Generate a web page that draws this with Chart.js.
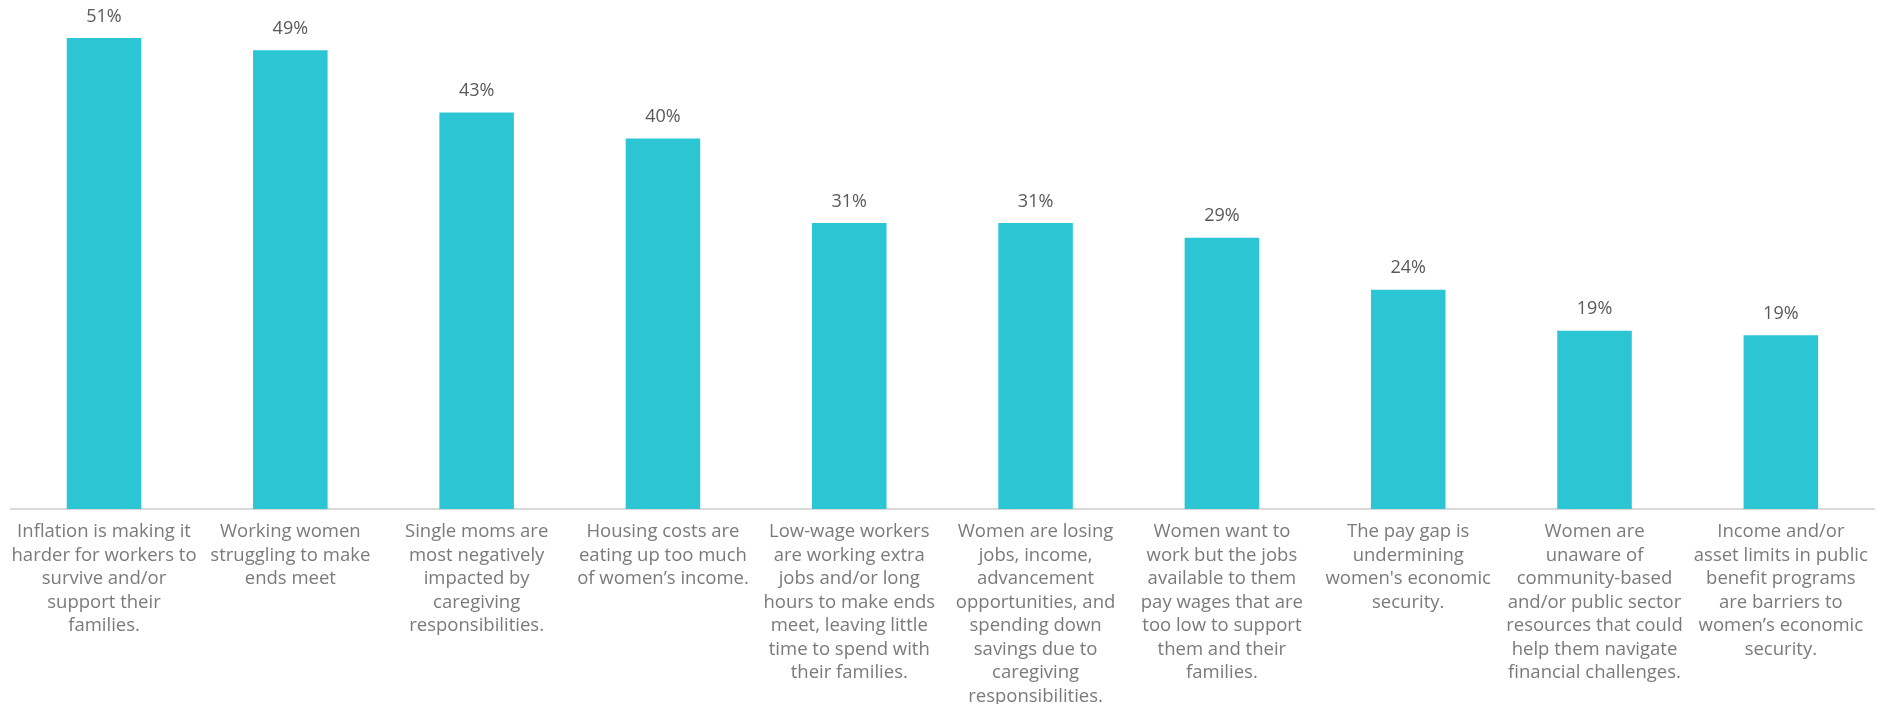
<!DOCTYPE html>
<html>
<head>
<meta charset="utf-8">
<script src="https://cdn.jsdelivr.net/npm/chart.js@4"></script>
<style>
  html, body { margin: 0; padding: 0; background: #ffffff; }
  #wrap { width: 1884px; height: 704px; position: relative; }
</style>
</head>
<body>
<div id="wrap"><canvas id="c"></canvas></div>
<script>
const categories = [
  ["Inflation is making it", "harder for workers to", "survive and/or", "support their", "families."],
  ["Working women", "struggling to make", "ends meet"],
  ["Single moms are", "most negatively", "impacted by", "caregiving", "responsibilities."],
  ["Housing costs are", "eating up too much", "of women\u2019s income."],
  ["Low-wage workers", "are working extra", "jobs and/or long", "hours to make ends", "meet, leaving little", "time to spend with", "their families."],
  ["Women are losing", "jobs, income,", "advancement", "opportunities, and", "spending down", "savings due to", "caregiving", "responsibilities."],
  ["Women want to", "work but the jobs", "available to them", "pay wages that are", "too low to support", "them and their", "families."],
  ["The pay gap is", "undermining", "women's economic", "security."],
  ["Women are", "unaware of", "community-based", "and/or public sector", "resources that could", "help them navigate", "financial challenges."],
  ["Income and/or", "asset limits in public", "benefit programs", "are barriers to", "women\u2019s economic", "security."]
];
const values = [50.7, 49.4, 42.7, 39.9, 30.8, 30.8, 29.2, 23.6, 19.2, 18.7];

const FONT = "'Open Sans', 'Lato', sans-serif";

const valueLabels = {
  id: 'valueLabels',
  afterDatasetsDraw(chart) {
    const ctx = chart.ctx;
    const meta = chart.getDatasetMeta(0);
    ctx.save();
    ctx.fillStyle = '#595959';
    ctx.font = '18px ' + FONT;
    ctx.textAlign = 'center';
    ctx.textBaseline = 'middle';
    meta.data.forEach((el, i) => {
      const v = chart.data.datasets[0].data[i];
      ctx.fillText(Math.round(v) + '%', el.x, el.y - 21.5);
    });
    ctx.restore();
  }
};

new Chart(document.getElementById('c'), {
  type: 'bar',
  data: {
    labels: categories,
    datasets: [{
      data: values,
      backgroundColor: '#2CC5D3',
      borderWidth: 0,
      barPercentage: 0.5,
      categoryPercentage: 0.8
    }]
  },
  options: {
    responsive: true,
    maintainAspectRatio: false,
    animation: false,
    layout: { padding: { left: 10, right: 10, top: 0, bottom: 0 } },
    plugins: { legend: { display: false }, tooltip: { enabled: false } },
    scales: {
      x: {
        grid: { display: false, drawTicks: false },
        border: { display: true, color: '#d9d9d9', width: 2 },
        ticks: {
          autoSkip: false,
          maxRotation: 0,
          minRotation: 0,
          padding: 11,
          color: '#7a7a7a',
          font: { family: FONT, size: 18.5, lineHeight: '23.5px' }
        },
        afterFit(scale) { scale.height = 195; }
      },
      y: {
        display: false,
        min: 0,
        max: 54.8
      }
    }
  },
  plugins: [valueLabels]
});
</script>
</body>
</html>
